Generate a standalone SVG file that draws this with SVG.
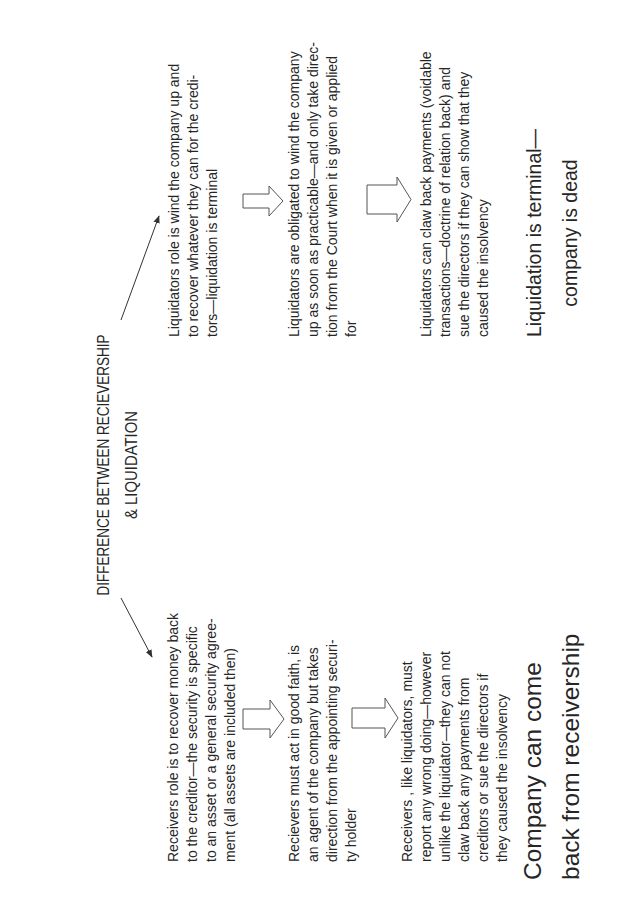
<svg xmlns="http://www.w3.org/2000/svg" width="638" height="903" viewBox="0 0 638 903">
<defs>
<style>
text{font-family:"Liberation Sans",Arial,sans-serif;fill:#262626}
.b{font-size:14px}
.t{font-size:17px}
.big{font-size:24.5px}
.big2{font-size:19.5px}
.arr{fill:#fff;stroke:#555;stroke-width:1}
.con{stroke:#333;stroke-width:1;fill:none}
</style>
<marker id="ah" viewBox="0 0 10 10" refX="9" refY="5" markerWidth="8" markerHeight="8" orient="auto" markerUnits="userSpaceOnUse">
<path d="M0,1 L10,5 L0,9 Z" fill="#333"/>
</marker>
</defs>
<rect width="638" height="903" fill="#fff"/>

<g id="title" transform="translate(109,465) rotate(-90)">
<text class="t" x="0" y="0" text-anchor="middle" textLength="261" lengthAdjust="spacingAndGlyphs">DIFFERENCE BETWEEN RECIEVERSHIP</text>
<text class="t" x="0" y="28" text-anchor="middle" textLength="108" lengthAdjust="spacingAndGlyphs">&amp; LIQUIDATION</text>
</g>

<g id="connectors">
<line class="con" x1="121" y1="598" x2="152" y2="657" marker-end="url(#ah)"/>
<line class="con" x1="121" y1="320" x2="159" y2="216" marker-end="url(#ah)"/>
</g>

<g id="recv1" transform="translate(178,862) rotate(-90)">
<text class="b" x="0" y="0">Receivers role is to recover money back</text>
<text class="b" x="0" y="19">to the creditor—the security is specific</text>
<text class="b" x="0" y="38">to an asset or a general security agree-</text>
<text class="b" x="0" y="57">ment (all assets are included then)</text>
</g>

<g id="arrowL1"><path class="arr" d="M243,709 H270 V700 L284,719 L270,738 V729 H243 Z"/></g>

<g id="recv2" transform="translate(299,862) rotate(-90)">
<text class="b" x="0" y="0">Recievers must act in good faith, is</text>
<text class="b" x="0" y="19">an agent of the company but takes</text>
<text class="b" x="0" y="38">direction from the appointing securi-</text>
<text class="b" x="0" y="57">ty holder</text>
</g>

<g id="arrowL2"><path class="arr" d="M352,708 H385 V698 L398,718 L385,738 V728 H352 Z"/></g>

<g id="recv3" transform="translate(412,862) rotate(-90)">
<text class="b" x="0" y="0">Receivers , like liquidators, must</text>
<text class="b" x="0" y="19">report any wrong doing—however</text>
<text class="b" x="0" y="38">unlike the liquidator—they can not</text>
<text class="b" x="0" y="57">claw back any payments from</text>
<text class="b" x="0" y="76">creditors or sue the directors if</text>
<text class="b" x="0" y="95">they caused the insolvency</text>
</g>

<g id="recvEnd" transform="translate(541,880) rotate(-90)">
<text class="big" x="0" y="0">Company can come</text>
<text class="big" x="0" y="38">back from receivership</text>
</g>

<g id="liq1" transform="translate(179,337) rotate(-90)">
<text class="b" x="0" y="0">Liquidators role is wind the company up and</text>
<text class="b" x="0" y="19">to recover whatever they can for the credi-</text>
<text class="b" x="0" y="38">tors—liquidation is terminal</text>
</g>

<g id="arrowR1"><path class="arr" d="M243,194 H269 V186 L283,201 L269,216 V208 H243 Z"/></g>

<g id="liq2" transform="translate(299,337) rotate(-90)">
<text class="b" x="0" y="0">Liquidators are obligated to wind the company</text>
<text class="b" x="0" y="19">up as soon as practicable—and only take direc-</text>
<text class="b" x="0" y="38">tion from the Court when it is given or applied</text>
<text class="b" x="0" y="57">for</text>
</g>

<g id="arrowR2"><path class="arr" d="M367,185 H397 V177 L411,199.5 L397,222 V214 H367 Z"/></g>

<g id="liq3" transform="translate(431,337) rotate(-90)">
<text class="b" x="0" y="0">Liquidators can claw back payments (voidable</text>
<text class="b" x="0" y="19">transactions—doctrine of relation back) and</text>
<text class="b" x="0" y="38">sue the directors if they can show that they</text>
<text class="b" x="0" y="57">caused the insolvency</text>
</g>

<g id="liqEnd" transform="translate(541,233) rotate(-90)">
<text class="big2" x="0" y="0" text-anchor="middle">Liquidation is terminal—</text>
<text class="big2" x="0" y="36" text-anchor="middle">company is dead</text>
</g>
</svg>
